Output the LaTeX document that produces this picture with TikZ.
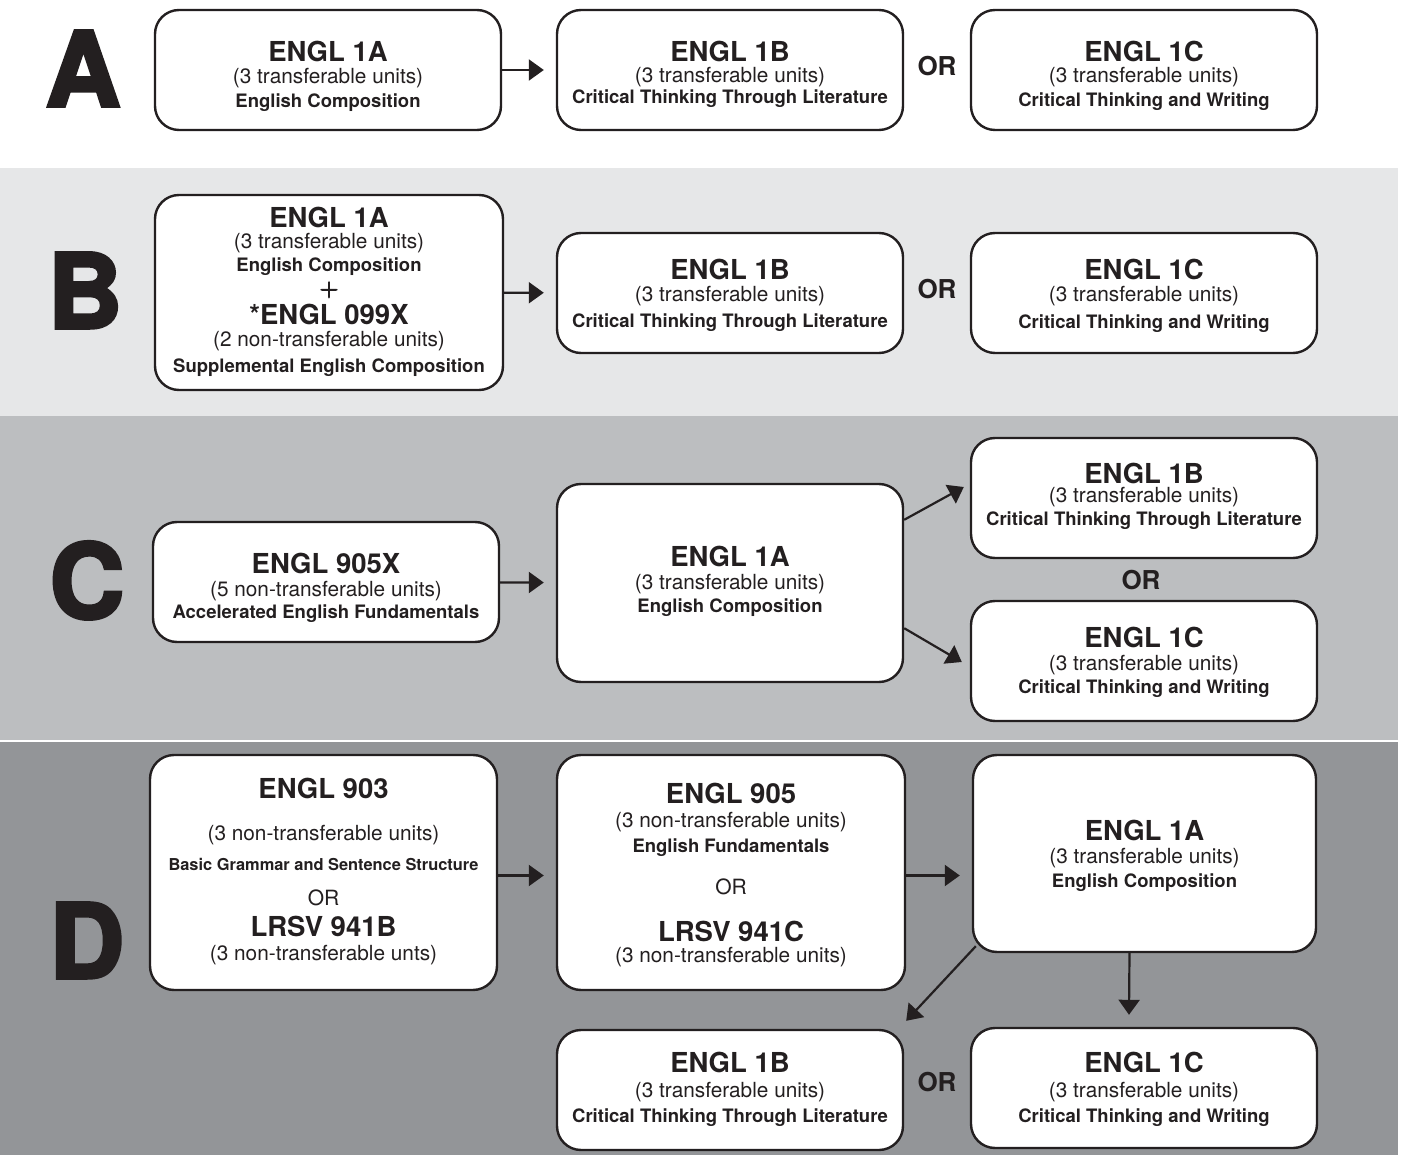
\documentclass[tikz,border=0pt]{standalone}
\usepackage{fontspec}
\setmainfont{TeX Gyre Heros}
\usetikzlibrary{arrows.meta,calc}
\definecolor{ink}{HTML}{231F20}
\definecolor{bandB}{HTML}{E6E7E8}
\definecolor{bandC}{HTML}{BCBEC0}
\definecolor{bandD}{HTML}{939598}
\newcommand\strokedtext[2]{\special{pdf:literal direct 2 Tr #1 w}#2\special{pdf:literal direct 0 Tr 1 w}}
\tikzset{
  box/.style={draw=ink, line width=2.4pt, rounded corners=24pt, fill=white, inner sep=0pt},
  ttl/.style={anchor=base, inner sep=0pt, text=ink, font=\fontsize{27.5}{30}\selectfont\bfseries},
  unt/.style={anchor=base, inner sep=0pt, text=ink, font=\fontsize{20.8}{24}\selectfont},
  sub/.style={anchor=base, inner sep=0pt, text=ink, font=\fontsize{18.5}{22}\selectfont\bfseries},
  sml/.style={anchor=base, inner sep=0pt, text=ink, font=\fontsize{16.4}{20}\selectfont\bfseries},
  orb/.style={anchor=base, inner sep=0pt, text=ink, font=\fontsize{26}{30}\selectfont\bfseries},
  orr/.style={anchor=base, inner sep=0pt, text=ink, font=\fontsize{21}{24}\selectfont},
  big/.style={anchor=base, inner sep=0pt, text=ink, font=\fontsize{103}{110}\selectfont\bfseries},
  arr/.style={draw=ink, line width=2.2pt, -{Triangle[length=15pt,width=21pt]}},
}
\begin{document}
\begin{tikzpicture}[x=1pt,y=-1pt]
\useasboundingbox (0,0) rectangle (1401,1155);
\fill[white] (0,0) rectangle (1401,1155);
\fill[bandB] (0,168) rectangle (1398,416);
\fill[bandC] (0,416) rectangle (1398,740);
\fill[bandD] (0,742) rectangle (1398,1155);

% ---------- Row A ----------
\node[big] (la) at (83,106) {\strokedtext{3.5}{A}};
\node[box, minimum width=346pt, minimum height=120pt] (a1) at (328,70) {};
\node[box, minimum width=346pt, minimum height=120pt] (a2) at (730,70) {};
\node[box, minimum width=346pt, minimum height=120pt] (a3) at (1144,70) {};
\node[ttl] (a1t) at (328,62) {ENGL 1A};
\node[unt] (a1u) at (328,84) {(3 transferable units)};
\node[sub] (a1s) at (328,107.5) {English Composition};
\node[ttl] (a2t) at (730,62) {ENGL 1B};
\node[unt] (a2u) at (730,83) {(3 transferable units)};
\node[sub] (a2s) at (730,103.5) {Critical Thinking Through Literature};
\node[ttl] (a3t) at (1144,62) {ENGL 1C};
\node[unt] (a3u) at (1144,83) {(3 transferable units)};
\node[sub] (a3s) at (1144,106.5) {Critical Thinking and Writing};
\node[orb] (aor) at (937,75.5) {OR};
\draw[arr, shorten >=12pt] (a1) -- (a2);

% ---------- Row B ----------
\node[big] (lb) at (85,328) {\strokedtext{3.5}{B}};
\node[box, minimum width=348pt, minimum height=195pt] (b1) at (329,292.5) {};
\node[box, minimum width=346pt, minimum height=120pt] (b2) at (730,293) {};
\node[box, minimum width=346pt, minimum height=120pt] (b3) at (1144,293) {};
\node[ttl] (b1t) at (329,228) {ENGL 1A};
\node[unt] (b1u) at (329,249) {(3 transferable units)};
\node[sub] (b1s) at (329,271.5) {English Composition};
\node[anchor=base, inner sep=0pt, text=ink, font=\fontsize{33}{36}\selectfont] (b1p) at (329,296) {\strokedtext{1.1}{$+$}};
\node[ttl] (b1t2) at (329,325) {*ENGL 099X};
\node[unt] (b1u2) at (329,347) {(2 non-transferable units)};
\node[sub] (b1s2) at (329,372.5) {Supplemental English Composition};
\node[ttl] (b2t) at (730,280) {ENGL 1B};
\node[unt] (b2u) at (730,302) {(3 transferable units)};
\node[sub] (b2s) at (730,327.5) {Critical Thinking Through Literature};
\node[ttl] (b3t) at (1144,280) {ENGL 1C};
\node[unt] (b3u) at (1144,302) {(3 transferable units)};
\node[sub] (b3s) at (1144,328.5) {Critical Thinking and Writing};
\node[orb] (bor) at (937,298.5) {OR};
\draw[arr, shorten >=12pt] (b1) -- (b2);

% ---------- Row C ----------
\node[big] (lc) at (87,618) {\strokedtext{3.5}{C}};
\node[box, minimum width=346pt, minimum height=120pt] (c1) at (326,582) {};
\node[box, minimum width=346pt, minimum height=198pt] (c2) at (730,583) {};
\node[box, minimum width=346pt, minimum height=120pt] (c3) at (1144,498) {};
\node[box, minimum width=346pt, minimum height=120pt] (c4) at (1144,661) {};
\node[ttl] (c1t) at (326,573) {ENGL 905X};
\node[unt] (c1u) at (326,596) {(5 non-transferable units)};
\node[sub] (c1s) at (326,618.5) {Accelerated English Fundamentals};
\node[ttl] (c2t) at (730,566) {ENGL 1A};
\node[unt] (c2u) at (730,589) {(3 transferable units)};
\node[sub] (c2s) at (730,612.5) {English Composition};
\node[ttl] (c3t) at (1144,483) {ENGL 1B};
\node[unt] (c3u) at (1144,503) {(3 transferable units)};
\node[sub] (c3s) at (1144,525.5) {Critical Thinking Through Literature};
\node[ttl] (c4t) at (1144,647) {ENGL 1C};
\node[unt] (c4u) at (1144,670) {(3 transferable units)};
\node[sub] (c4s) at (1144,693.5) {Critical Thinking and Writing};
\node[orb] (cor) at (1141,589.5) {OR};
\draw[arr, shorten >=12pt] (c1) -- (c2);
\draw[arr] ($(c2.north east)+(0,37)$) -- ($(c3.west)+(-6,-11)$);
\draw[arr] ($(c2.south east)+(0,-55)$) -- ($(c4.west)+(-8,1)$);

% ---------- Row D ----------
\node[big] (ld) at (87,978) {\strokedtext{3.5}{D}};
\node[box, minimum width=347pt, minimum height=235pt] (d1) at (323.5,872.5) {};
\node[box, minimum width=348pt, minimum height=235pt] (d2) at (731,872.5) {};
\node[box, minimum width=343pt, minimum height=197pt] (d3) at (1144.5,853.5) {};
\node[box, minimum width=346pt, minimum height=120pt] (d4) at (730,1090) {};
\node[box, minimum width=346pt, minimum height=120pt] (d5) at (1144,1088) {};
\node[ttl] (d1t) at (323.5,798) {ENGL 903};
\node[unt] (d1u) at (323.5,840) {(3 non-transferable units)};
\node[sml] (d1s) at (323.5,870) {Basic Grammar and Sentence Structure};
\node[orr] (d1o) at (323.5,905.5) {OR};
\node[ttl] (d1t2) at (323.5,936) {LRSV 941B};
\node[unt] (d1u2) at (323.5,960) {(3 non-transferable unts)};
\node[ttl] (d2t) at (731,803) {ENGL 905};
\node[unt] (d2u) at (731,827) {(3 non-transferable units)};
\node[sub] (d2s) at (731,852.5) {English Fundamentals};
\node[orr] (d2o) at (731,894.5) {OR};
\node[ttl] (d2t2) at (731,941) {LRSV 941C};
\node[unt] (d2u2) at (731,962) {(3 non-transferable units)};
\node[ttl] (d3t) at (1144.5,840) {ENGL 1A};
\node[unt] (d3u) at (1144.5,863) {(3 transferable units)};
\node[sub] (d3s) at (1144.5,887.5) {English Composition};
\node[ttl] (d4t) at (730,1072) {ENGL 1B};
\node[unt] (d4u) at (730,1097) {(3 transferable units)};
\node[sub] (d4s) at (730,1122.5) {Critical Thinking Through Literature};
\node[ttl] (d5t) at (1144,1072) {ENGL 1C};
\node[unt] (d5u) at (1144,1097) {(3 transferable units)};
\node[sub] (d5s) at (1144,1122.5) {Critical Thinking and Writing};
\node[orb] (dor) at (937,1091.5) {OR};
\draw[arr, shorten >=12pt] ($(d1.east)+(0,3)$) -- ($(d2.west)+(0,3)$);
\draw[arr, shorten >=12pt] ($(d2.east)+(0,3)$) -- ($(d2.east -| d3.west)+(0,3)$);
\draw[arr] ($(d3.south)+(-15,0)$) -- ($(d5.north)+(-15,-12)$);
\draw[arr] ($(d3.south west)+(4,-7)$) -- ($(d4.north east)+(2,-8)$);
\end{tikzpicture}
\end{document}
